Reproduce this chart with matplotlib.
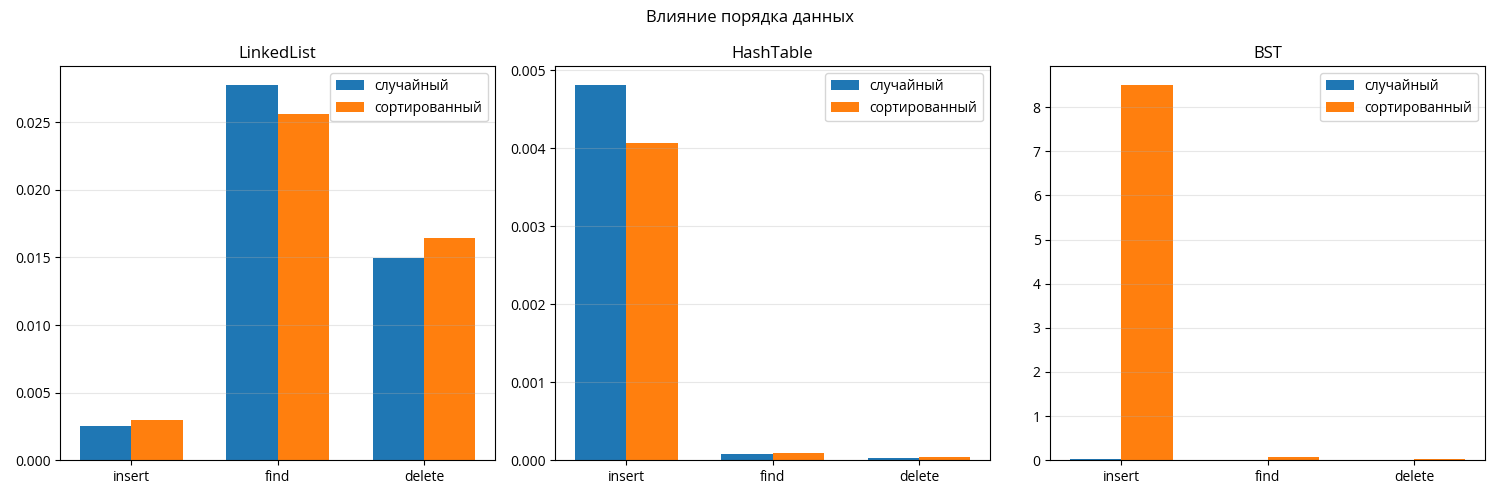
import numpy as np
import matplotlib
matplotlib.use('Agg')
import matplotlib.pyplot as plt

plt.rcParams['font.family'] = ['Open Sans', 'DejaVu Sans']

# операции и структуры
ops = ['insert', 'find', 'delete']
structures = ['LinkedList', 'HashTable', 'BST']

# время для случайного порядка
random_times = {
    'LinkedList': [0.00251, 0.02774, 0.01494],
    'HashTable': [0.00481, 0.000077, 0.000035],
    'BST': [0.02, 0.001, 0.001],
}
# время для сортированного порядка
sorted_times = {
    'LinkedList': [0.00296, 0.02559, 0.01642],
    'HashTable': [0.004064, 0.000088, 0.000047],
    'BST': [8.50, 0.065, 0.03],
}

fig, axes = plt.subplots(1, 3, figsize=(15, 5))
x = np.arange(len(ops))
w = 0.35

for ax, name in zip(axes, structures):
    ax.bar(x - w / 2, random_times[name], w, label='случайный')
    ax.bar(x + w / 2, sorted_times[name], w, label='сортированный')
    ax.set_xticks(x)
    ax.set_xticklabels(ops)
    ax.set_title(name)
    ax.grid(axis='y', alpha=0.3)
    ax.legend()

fig.suptitle('Влияние порядка данных')
plt.tight_layout()
plt.savefig('out.png', dpi=100)
